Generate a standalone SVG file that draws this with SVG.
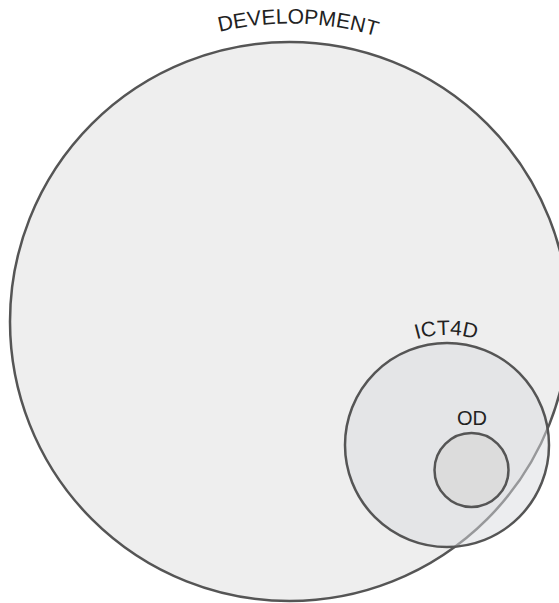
<svg xmlns="http://www.w3.org/2000/svg" xmlns:xlink="http://www.w3.org/1999/xlink" width="559" height="603" viewBox="0 0 559 603">
<style>
.c{stroke:#555;stroke-width:2.5}
.t{font-family:"Liberation Sans",Arial,sans-serif;font-size:21px;fill:#222}
</style>
<defs>
<path id="arcDev" d="M -8 321.5 A 298 298 0 0 1 588 321.5" fill="none"/>
<path id="arcIct" d="M 337 445 A 110 110 0 0 1 557 445" fill="none"/>
</defs>
<rect width="559" height="603" fill="#fff"/>
<g id="development">
<circle class="c" cx="289.5" cy="321.5" r="279.5" fill="#eeeeee"/>
<text class="t" text-anchor="middle"><textPath href="#arcDev" xlink:href="#arcDev" startOffset="476">DEVELOPMENT</textPath></text>
</g>
<g id="ict4d">
<circle class="c" cx="447" cy="445" r="102" fill="rgb(218,220,224)" fill-opacity="0.5"/>
<text class="t" text-anchor="middle"><textPath href="#arcIct" xlink:href="#arcIct" startOffset="172">ICT4D</textPath></text>
</g>
<g id="od">
<circle class="c" cx="471.5" cy="470" r="37" fill="#dcdcdc"/>
<text class="t" x="472" y="425" text-anchor="middle" style="font-size:20px">OD</text>
</g>
<g id="connectors"/>
</svg>
